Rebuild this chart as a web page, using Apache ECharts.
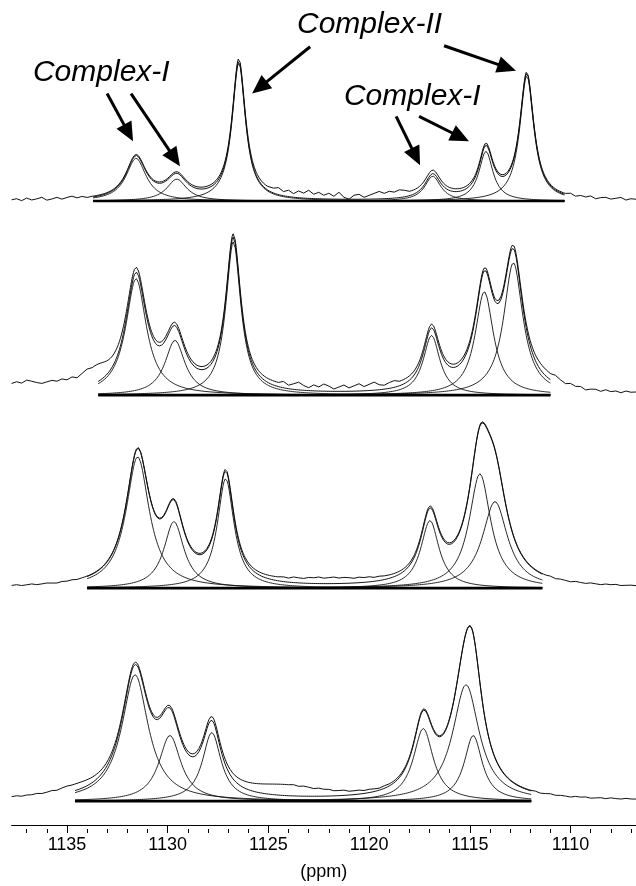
<!DOCTYPE html>
<html><head><meta charset="utf-8">
<script src="https://cdn.jsdelivr.net/npm/echarts@6/dist/echarts.min.js"></script>
<style>html,body{margin:0;padding:0;background:#fff}#c{width:636px;height:886px}</style>
</head><body><div id="c"></div>
<script>
// ---------- axis ----------
const ppmMajorTicks = [1110, 1115, 1120, 1125, 1130, 1135];
const ppmMinorTicks = [1107,1108,1109,1110,1111,1112,1113,1114,1115,1116,1117,1118,1119,1120,1121,1122,1123,1124,1125,1126,1127,1128,1129,1130,1131,1132,1133,1134,1135,1136,1137];
const axisName = '(ppm)';
const xMinPpm = 1106.75, xMaxPpm = 1137.75;

// ---------- spectrum 1 (top) ----------
const s1Centers = [1131.57, 1129.55, 1126.47, 1116.84, 1114.20, 1112.17];
const s1Heights = [43, 22, 139, 25, 50, 126];
const s1Widths  = [0.60, 0.60, 0.40, 0.48, 0.42, 0.42];
const s1FitRange = [1133.7, 1110.3];
const s1BgCenters = [1121.0], s1BgHeights = [6], s1BgWidths = [5.0];
const s1NoiseStarts = [1137.75, 1125.0, 1110.25];
const s1NoiseLeft  = [0, 1, -1, 1.5, -0.5, 0.5, 2, -1, 0, 1.5, -0.5, 1, 2, 0, 1, -0.5, 0];
const s1NoiseMid   = [0, 1, 3, 0, 2, -1, 2, 0, 3, -1, 1, -2, 0, -3, 1, -4, -6, -2, -1, -4, -2, 0, 2, 0, 2, 1, 3, 2, 0];
const s1NoiseRight = [0, 1.5, -0.5, 1, 0, 1.5, -1, 0.5, 1, -0.5, 0.5, 1.5, -1, 0.5, 0];

// ---------- spectrum 2 ----------
const s2Centers = [1131.57, 1129.64, 1126.74, 1116.90, 1114.28, 1112.84];
const s2Heights = [117, 55, 154, 60, 104, 133];
const s2Widths  = [0.62, 0.60, 0.45, 0.50, 0.55, 0.58];
const s2FitRange = [1133.45, 1111.0];
const s2BgCenters = [1136.8, 1133.5, 1121.0, 1111.3], s2BgHeights = [10, 13, 5, 5], s2BgWidths = [2.5, 0.8, 6.0, 1.0];
const s2NoiseStarts = [1137.75, 1124.5, 1111.0];
const s2NoiseLeft  = [0, 1, -1, 1.5, 0, -1.5, -2.5, -1, 0.5, -0.5, 1.5, 0, 2, -0.5, 1.5, 2.5, 0];
const s2NoiseMid   = [0, 2, -1, 1, 3, 0, -2, 1, -1, 2, 0, -3, -1, 1, -2, 0, 2, -1, 1, 3, 0, -1, 1, 2, 0];
const s2NoiseRight = [0, 2, 0.5, -1, 1, -0.5, 0.5, -2, -0.5, 0, -1.5, 0.5, -1, 0, -1.5, 0.5, -0.5, 0];

// ---------- spectrum 3 ----------
const s3Centers = [1131.49, 1129.69, 1127.12, 1116.98, 1114.50, 1113.75];
const s3Heights = [132, 67, 110, 68, 115, 87];
const s3Widths  = [0.70, 0.60, 0.50, 0.55, 0.65, 0.76];
const s3FitRange = [1134.0, 1111.4];
const s3BgCenters = [1122.0], s3BgHeights = [6], s3BgWidths = [3.5];
const s3NoiseStarts = [1137.75, 1124.5, 1111.25];
const s3NoiseLeft  = [0, 0.5, -0.5, 0, 0.6, -0.4, 0, 0.5, 0, -0.5, 0.4, 0, 0.5, -0.3, 0];
const s3NoiseMid   = [0, 0.5, -0.5, 0.8, 0, -0.6, 0.4, 0, 0.7, -0.5, 0, 0.6, -0.4, 0.3, 0, -0.6, 0.5, 0, 0.6, -0.3, 0.4, 0, 0];
const s3NoiseRight = [0, 0.6, -0.4, 0.3, 0, -0.6, 0.5, 0, -0.4, 0.5, 0, -0.5, 0.4, 0, 0.5, -0.4, 0, 0.3, 0];

// ---------- spectrum 4 (bottom) ----------
const s4Centers = [1131.62, 1129.89, 1127.81, 1117.31, 1115.19, 1114.83];
const s4Heights = [127, 66, 69, 73, 117, 66];
const s4Widths  = [0.80, 0.66, 0.56, 0.60, 0.80, 0.54];
const s4FitRange = [1134.6, 1111.95];
const s4BgCenters = [1124.2, 1134.5], s4BgHeights = [11, 6], s4BgWidths = [2.5, 1.5];
const s4NoiseStarts = [1137.75, 1124.0, 1112.0];
const s4NoiseLeft  = [0, 0.5, -0.4, 0.3, 0, 0.6, -0.3, 0, 0.5, -0.5, 0.3, 0.6, 0];
const s4NoiseMid   = [0, 0.5, -0.5, 0.4, 0, -0.6, 0.5, 0, 0.4, -0.5, 0, 0.6, -0.4, 0, 0.5, -0.3, 0.4, 0, -0.5, 0.3, 0];
const s4NoiseRight = [0, 0.4, -0.5, 0, 0.6, -0.3, 0.2, 0, -0.6, 0.4, 0, 0.5, -0.5, 0, 0.4, -0.4, 0.6, 0, -0.3, 0.5, 0, 0];

// ---------- annotations (data coords: ppm, intensity) ----------
const labelTexts = ['Complex-I', 'Complex-II', 'Complex-I'];
const labelPos = [[1136.69, 756.4], [1123.58, 804.4], [1121.25, 731.4]];
const arrowFrom = [[1133.01, 735], [1131.82, 735], [1122.93, 782], [1116.28, 783], [1118.66, 712], [1117.52, 712]];
const arrowTo   = [[1131.72, 687], [1129.39, 662], [1125.81, 735], [1112.71, 758], [1117.47, 663], [1115.04, 687]];

// vertical stacking offsets of the four spectra (layout)
const stackOffsets = [627, 432, 238, 24];

const spectra = [
  {c: s1Centers, h: s1Heights, w: s1Widths, fit: s1FitRange, bc: s1BgCenters, bh: s1BgHeights, bw: s1BgWidths, ns: s1NoiseStarts, nz: [s1NoiseLeft, s1NoiseMid, s1NoiseRight]},
  {c: s2Centers, h: s2Heights, w: s2Widths, fit: s2FitRange, bc: s2BgCenters, bh: s2BgHeights, bw: s2BgWidths, ns: s2NoiseStarts, nz: [s2NoiseLeft, s2NoiseMid, s2NoiseRight]},
  {c: s3Centers, h: s3Heights, w: s3Widths, fit: s3FitRange, bc: s3BgCenters, bh: s3BgHeights, bw: s3BgWidths, ns: s3NoiseStarts, nz: [s3NoiseLeft, s3NoiseMid, s3NoiseRight]},
  {c: s4Centers, h: s4Heights, w: s4Widths, fit: s4FitRange, bc: s4BgCenters, bh: s4BgHeights, bw: s4BgWidths, ns: s4NoiseStarts, nz: [s4NoiseLeft, s4NoiseMid, s4NoiseRight]}
];

function lor(x, c, h, w) { const d = x - c; return h * w * w / (d * d + w * w); }
function fitSum(p, x) { let s = 0; for (let i = 0; i < p.c.length; i++) s += lor(x, p.c[i], p.h[i], p.w[i]); return s; }
function bgSum(p, x) { let s = 0; for (let i = 0; i < p.bc.length; i++) s += lor(x, p.bc[i], p.bh[i], p.bw[i]); return s; }

const U = 20; // sampling units per ppm (0.05 ppm)
function fitRangeUnits(p) { return [Math.round(p.fit[0] * U), Math.round(p.fit[1] * U)]; }

function buildExp(p, base) {
  const pts = [];
  let u = Math.round(xMaxPpm * U);
  const uMin = Math.round(xMinPpm * U);
  p.ns.forEach((s, z) => {
    const us = Math.round(s * U);
    for (; u > us; u--) { const t = u / U; pts.push([t, base + fitSum(p, t) + bgSum(p, t)]); }
    const arr = p.nz[z];
    for (let k = 0; k < arr.length; k++) {
      const t = (us - 5 * k) / U;
      pts.push([t, base + fitSum(p, t) + bgSum(p, t) + arr[k]]);
    }
    u = us - 5 * (arr.length - 1) - 1;
  });
  for (; u >= uMin; u--) { const t = u / U; pts.push([t, base + fitSum(p, t) + bgSum(p, t)]); }
  return pts;
}

const ink = '#111';
const series = [];
spectra.forEach((p, si) => {
  const base = stackOffsets[si];
  const [ua, ub] = fitRangeUnits(p);
  // baseline
  series.push({type: 'line', data: [[p.fit[0], base], [p.fit[1], base]], symbol: 'none',
    lineStyle: {color: '#000', width: 2.6}, silent: true, z: 3});
  // components
  for (let i = 0; i < p.c.length; i++) {
    const d = [];
    for (let u = ua; u >= ub; u--) { const t = u / U; d.push([t, base + lor(t, p.c[i], p.h[i], p.w[i])]); }
    series.push({type: 'line', data: d, symbol: 'none', lineStyle: {color: ink, width: 0.9}, silent: true, z: 2});
  }
  // fitted sum
  const ds = [];
  for (let u = ua; u >= ub; u--) { const t = u / U; ds.push([t, base + fitSum(p, t)]); }
  series.push({type: 'line', data: ds, symbol: 'none', lineStyle: {color: ink, width: 1}, silent: true, z: 2});
  // experimental trace
  series.push({type: 'line', data: buildExp(p, base), symbol: 'none', lineStyle: {color: ink, width: 1}, silent: true, z: 2});
});

const chart = echarts.init(document.getElementById('c'), null, {renderer: 'canvas'});
const gridBox = {left: 11.6, right: 0, top: 0, bottom: 57};
const fontFam = '"Liberation Sans", Arial, sans-serif';
chart.setOption({
  animation: false,
  backgroundColor: '#fff',
  grid: [Object.assign({}, gridBox), Object.assign({}, gridBox)],
  xAxis: [
    {type: 'value', gridIndex: 0, inverse: true, min: xMinPpm, max: xMaxPpm, position: 'bottom',
      axisLine: {show: true, lineStyle: {color: '#000', width: 1}},
      axisTick: {show: true, customValues: ppmMajorTicks, length: 8, lineStyle: {color: '#000', width: 1}},
      axisLabel: {show: true, customValues: ppmMajorTicks, formatter: v => String(Math.round(v)),
        color: '#000', fontSize: 18, fontFamily: fontFam, margin: 11},
      splitLine: {show: false},
      name: axisName, nameLocation: 'middle', nameGap: 38,
      nameTextStyle: {color: '#000', fontSize: 18, fontFamily: fontFam}},
    {type: 'value', gridIndex: 1, inverse: true, min: xMinPpm, max: xMaxPpm, position: 'bottom',
      axisLine: {show: false},
      axisTick: {show: true, customValues: ppmMinorTicks, length: 4, lineStyle: {color: '#000', width: 1}},
      axisLabel: {show: false}, splitLine: {show: false}}
  ],
  yAxis: [
    {type: 'value', gridIndex: 0, min: 0, max: 829, show: false, splitLine: {show: false}},
    {type: 'value', gridIndex: 1, min: 0, max: 829, show: false, splitLine: {show: false}}
  ],
  series: series
});

// annotations
const graphics = [];
const font = 'italic 30px ' + fontFam;
labelTexts.forEach((t, i) => {
  const pt = chart.convertToPixel({gridIndex: 0}, labelPos[i]);
  graphics.push({type: 'text', x: pt[0], y: pt[1], z: 10,
    style: {text: t, font: font, fill: '#000', align: 'left', verticalAlign: 'middle', textAlign: 'left', textVerticalAlign: 'middle'}});
});
arrowFrom.forEach((f, i) => {
  const a = chart.convertToPixel({gridIndex: 0}, f);
  const b = chart.convertToPixel({gridIndex: 0}, arrowTo[i]);
  const dx = b[0] - a[0], dy = b[1] - a[1];
  const L = Math.sqrt(dx * dx + dy * dy);
  const ux = dx / L, uy = dy / L;
  const hl = 19, hw = 8.5;
  const bx = b[0] - ux * hl, by = b[1] - uy * hl;
  graphics.push({type: 'line', z: 10, shape: {x1: a[0], y1: a[1], x2: bx + ux * 2, y2: by + uy * 2},
    style: {stroke: '#000', lineWidth: 3}});
  graphics.push({type: 'polygon', z: 10, shape: {points: [[b[0], b[1]], [bx - uy * hw, by + ux * hw], [bx + uy * hw, by - ux * hw]]},
    style: {fill: '#000'}});
});
chart.setOption({graphic: graphics});
</script>
</body></html>
